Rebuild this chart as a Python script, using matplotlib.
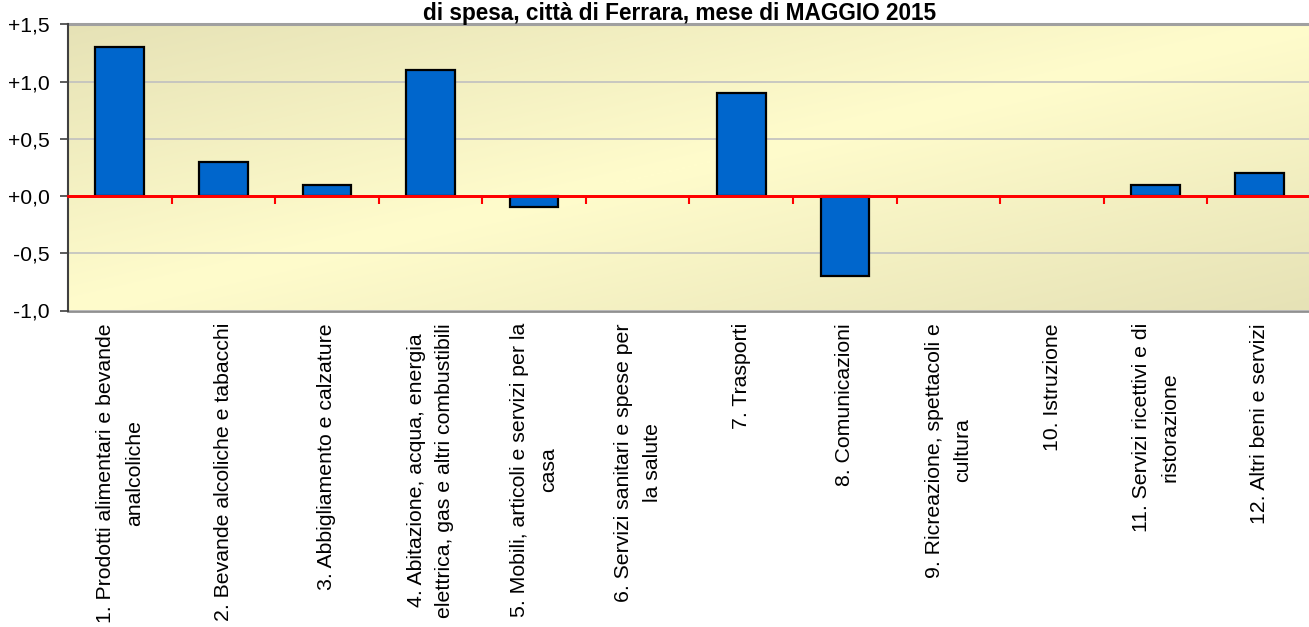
import numpy as np
import matplotlib
matplotlib.use("Agg")
import matplotlib.pyplot as plt
from matplotlib.colors import LinearSegmentedColormap

categories = [
    "1. Prodotti alimentari e bevande\nanalcoliche",
    "2. Bevande alcoliche e tabacchi",
    "3. Abbigliamento e calzature",
    "4. Abitazione, acqua, energia\nelettrica, gas e altri combustibili",
    "5. Mobili, articoli e servizi per la\ncasa",
    "6. Servizi sanitari e spese per\nla salute",
    "7. Trasporti",
    "8. Comunicazioni",
    "9. Ricreazione, spettacoli e\ncultura",
    "10. Istruzione",
    "11. Servizi ricettivi e di\nristorazione",
    "12. Altri beni e servizi",
]
values = [1.3, 0.3, 0.1, 1.1, -0.1, 0.0, 0.9, -0.7, 0.0, 0.0, 0.1, 0.2]
yticks = [-1.0, -0.5, 0.0, 0.5, 1.0, 1.5]
ytick_labels = ["-1,0", "-0,5", "+0,0", "+0,5", "+1,0", "+1,5"]
title = "di spesa, città di Ferrara, mese di MAGGIO 2015"

plt.rcParams['font.family'] = ['Liberation Sans', 'DejaVu Sans']

W, H = 1309, 627
fig = plt.figure(figsize=(W / 100, H / 100), dpi=100)
left_px, right_px, top_px, bot_px = 68, 1311, 24.3, 310.5
ax = fig.add_axes([left_px / W, 1 - bot_px / H, (right_px - left_px) / W, (bot_px - top_px) / H])

n = len(categories)
x = np.arange(n)
ax.set_xlim(-0.5, n - 0.5)
ax.set_ylim(-1.0, 1.5)

# diagonal gradient background
gx, gy = np.meshgrid(np.linspace(0, 1, 400), np.linspace(0, 1, 200))
u = (gx + gy) / 2.0  # 0 at top-left, 1 at bottom-right (image row 0 = top)
t = np.abs(u - 0.5) * 2
cmap = LinearSegmentedColormap.from_list("bg", ["#fffccc", "#e6e2b6"])
ax.imshow(t, cmap=cmap, extent=(0, 1, 0, 1), transform=ax.transAxes,
          aspect='auto', origin='upper', zorder=0, interpolation='bilinear')

# gridlines
for yv in yticks:
    if yv != 0:
        ax.axhline(yv, color="#c0c0c0", lw=1.2, zorder=1)
ax.axhline(1.5, color="#a0a0a0", lw=2.2, zorder=1, clip_on=False)

edge_widths = [0 if v == 0 else 1.6 for v in values]
ax.bar(x, values, width=0.47, color="#0066cc", edgecolor="black",
       linewidth=edge_widths, zorder=3)
ax.axhline(0, color="#ff0000", lw=2, zorder=5)

# spines
ax.spines['top'].set_visible(False)
ax.spines['right'].set_visible(False)
ax.spines['left'].set_color("#404040")
ax.spines['left'].set_linewidth(1.5)
ax.spines['bottom'].set_position(('data', 0))
ax.spines['bottom'].set_color("#ff0000")
ax.spines['bottom'].set_linewidth(2)
ax.spines['bottom'].set_zorder(5)

ax.set_xticks(np.arange(0.5, n - 0.5, 1))
ax.tick_params(axis='x', which='major', color="#ff0000", length=6, width=1.5,
               labelbottom=False, direction='out')

ax.set_yticks(yticks)
ax.set_yticklabels(ytick_labels)
ax.tick_params(axis='y', color="#404040", length=6, width=1.2, pad=7, labelsize=15.2)

sec = ax.secondary_xaxis(0)
sec.set_xticks(x)
sec.set_xticklabels(categories, rotation=90, fontsize=15.3, linespacing=1.65,
                    ha='center', va='top', multialignment='center')
sec.tick_params(length=0, pad=9)
sec.spines['bottom'].set_color("#909090")
sec.spines['bottom'].set_linewidth(2)

fig.text(680 / W, 1 - 20 / H, title, ha='center', va='baseline',
         fontsize=16.3, fontweight='bold')

fig.savefig("out.png", dpi=100)
